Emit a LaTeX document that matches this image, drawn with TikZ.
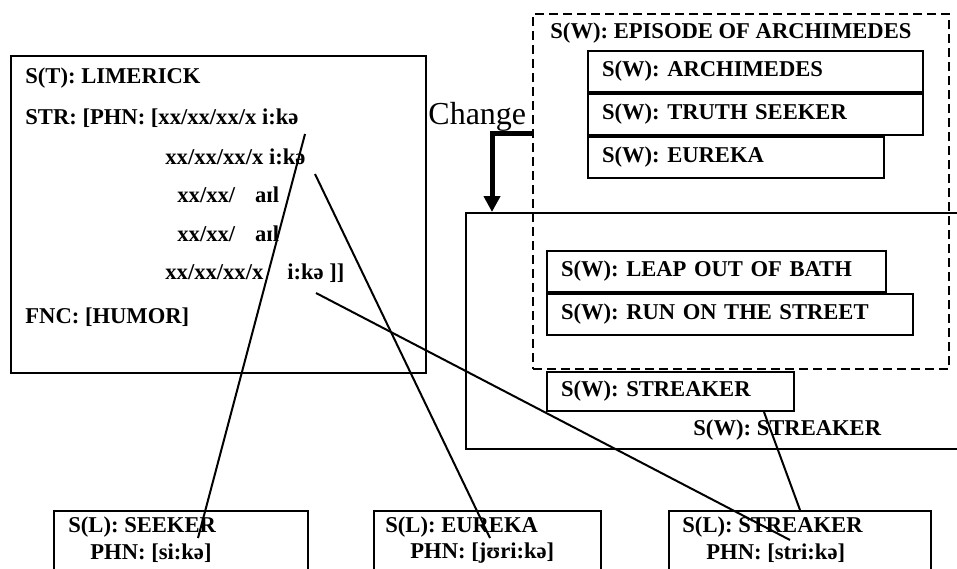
\documentclass[tikz,border=0pt]{standalone}
\usepackage{fontspec}
\setmainfont{Liberation Serif}
\usetikzlibrary{shapes,arrows.meta,positioning,calc}

\begin{document}
\begin{tikzpicture}[x=0.5pt, y=-0.5pt, >=Stealth, font=\fontsize{11.3}{13.5}\selectfont\bfseries]
        % Styles
        \tikzstyle{frame} = [rectangle, draw, line width=1pt, anchor=north west, inner sep=0pt]
        \tikzstyle{wbox} = [rectangle, draw, line width=1pt, anchor=north west, inner xsep=7pt, inner ysep=0pt, minimum height=20.5pt, align=left]
        \tikzstyle{txt} = [anchor=west, inner sep=0pt]
        \tikzstyle{wire} = [draw, line width=1pt]

        \useasboundingbox (0,0) rectangle (957,568);

        % Limerick
        \node [frame, minimum width=207.5pt, minimum height=158.5pt] (limerick) at (10,55) {};
        \node [txt] (title) at (25,78) {S(T): LIMERICK};
        \node [txt] (strline) at (25,118) {STR: [PHN: [xx/xx/xx/x i:kə};
        \node [txt] (verseb) at (165,157) {xx/xx/xx/x i:kə};
        \node [txt] (versec) at (177,195) {xx/xx/\hspace{10pt}aɪl};
        \node [txt] (versed) at (177,234) {xx/xx/\hspace{10pt}aɪl};
        \node [txt] (versee) at (165,273) {xx/xx/xx/x\hspace{12pt}i:kə ]]};
        \node [txt] (fnc) at (25,317) {FNC: [HUMOR]};

        % Situation after the change
        \node [frame, minimum width=255pt, minimum height=118pt] (bigbox) at (465,212) {};
        \node [wbox, text width=155.5pt] (leap) at (546,250) {S(W): LEAP OUT OF BATH};
        \node [wbox, text width=169pt, below right=0pt of leap.south west] (run) {S(W): RUN ON THE STREET};
        \node [wbox, text width=109.5pt, minimum height=19.5pt] (streakw) at (546,371) {S(W): STREAKER};
        \node [txt] (bigname) at (693,430) {S(W): STREAKER};

        % Episode
        \node [frame, dashed, dash pattern=on 4.5pt off 2.5pt, minimum width=208pt, minimum height=177.5pt] (episode) at (532,13) {};
        \node [txt] (eptitle) at (550,33) {S(W): EPISODE OF ARCHIMEDES};
        \node [wbox, text width=153.5pt] (archi) at (587,50) {S(W): ARCHIMEDES};
        \node [wbox, text width=153.5pt, below right=0pt of archi.south west] (truth) {S(W): TRUTH SEEKER};
        \node [wbox, text width=134pt, below right=0pt of truth.south west] (eurekaw) {S(W): EUREKA};

        % Change
        \node [txt, font=\mdseries\fontsize{16}{18}\selectfont] (change) at (428,117) {Change};
        \draw [line width=2.5pt, -{Triangle[length=8pt,width=8pt]}] ($(episode.north west)+(0,120)$) -| ($(bigbox.north west)+(27,0)$);

        % Lexicon
        \node [frame, minimum width=127pt, minimum height=40pt] (seeker) at (53,510) {};
        \node [txt] (seekname) at (68,527) {S(L): SEEKER};
        \node [txt] (seekphn) at (90,553) {PHN: [si:kə]};
        \node [frame, minimum width=113.5pt, minimum height=40pt] (eureka) at (373,510) {};
        \node [txt] (eurname) at (385,527) {S(L): EUREKA};
        \node [txt] (eurphn) at (410,553) {PHN: [jʊri:kə]};
        \node [frame, minimum width=131pt, minimum height=40pt] (streakl) at (668,510) {};
        \node [txt] (strname) at (682,527) {S(L): STREAKER};
        \node [txt] (strphn) at (706,553) {PHN: [stri:kə]};

        % Edges
        \coordinate (rhymea) at (305,134);
        \coordinate (rhymeb) at (315,174);
        \coordinate (rhymec) at (316,293);
        \coordinate (seekend) at ($(seeker.north west)+(145,28)$);
        \coordinate (eurend) at ($(eureka.north west)+(117,28)$);
        \coordinate (strend) at ($(streakl.north west)+(122,30)$);
        \path [wire] (rhymea) -- (seekend);
        \path [wire] (rhymeb) -- (eurend);
        \path [wire] (rhymec) -- (strend);
        \path [wire] ($(streakw.south east)+(-31,0)$) -- ($(streakl.north west)+(132,0)$);
\end{tikzpicture}
\end{document}
